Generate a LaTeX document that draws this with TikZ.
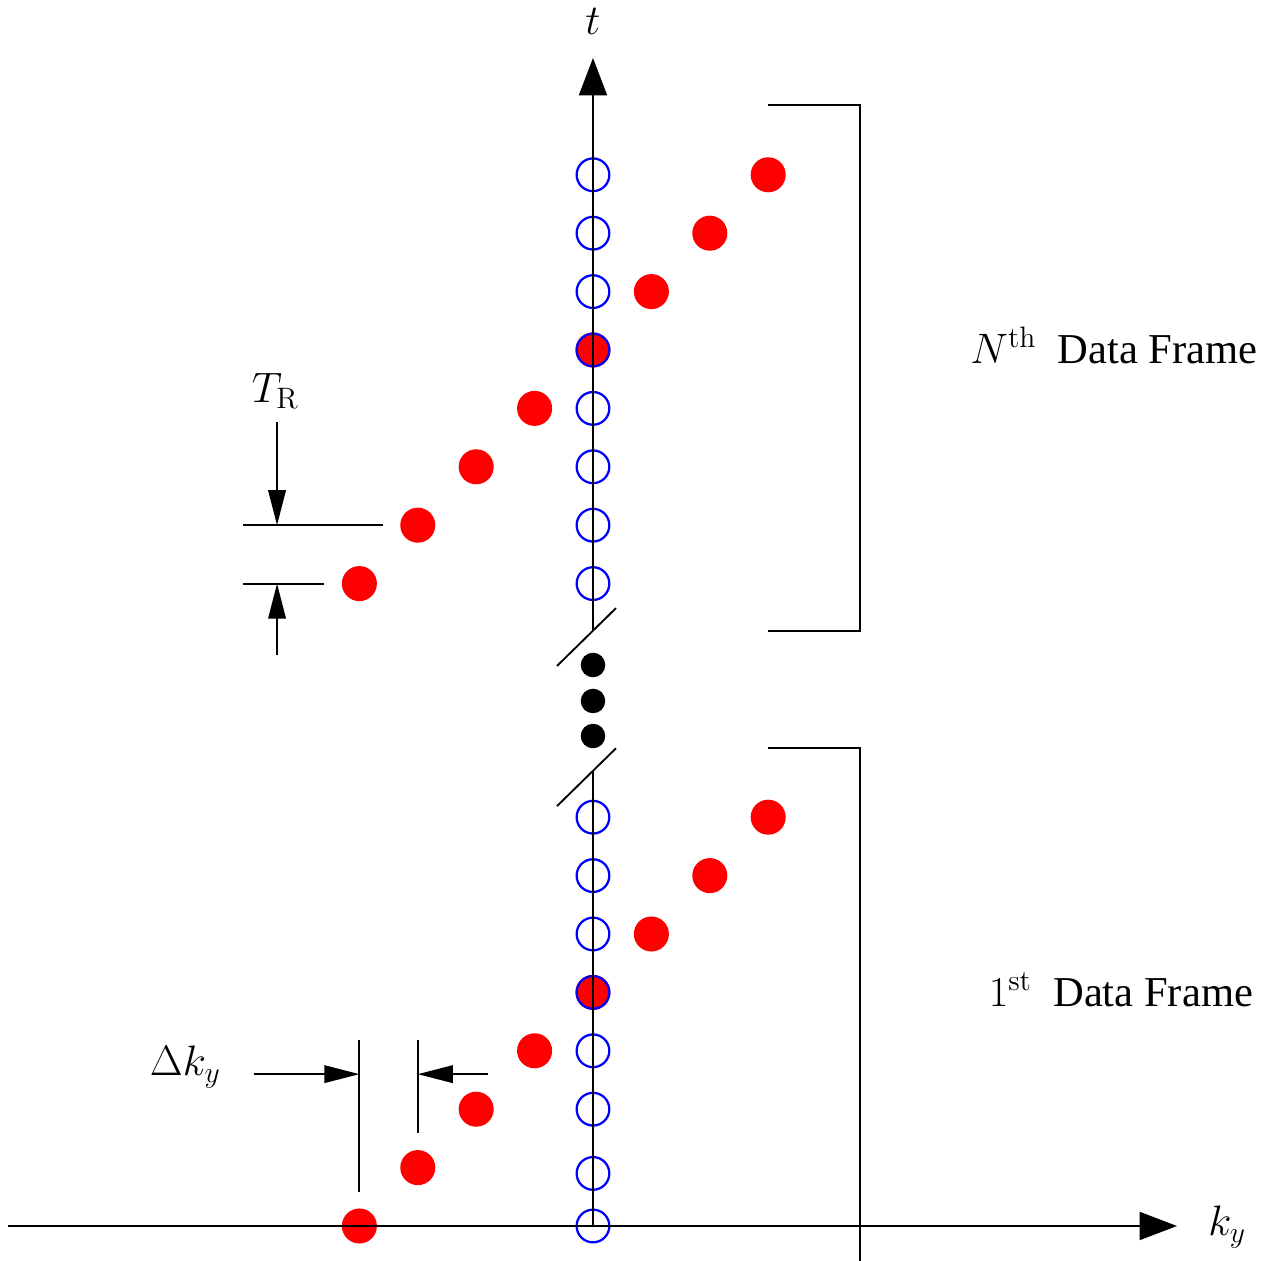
\documentclass[tikz,border=0pt]{standalone}
\usepackage[no-math]{fontspec}
\setmainfont{Liberation Serif}
\usetikzlibrary{arrows.meta}
\begin{document}
\begin{tikzpicture}[
  line width=0.9pt,
  reddot/.style={circle,fill=red,inner sep=0pt,minimum size=0.6cm},
  bluering/.style={circle,draw=blue,line width=1.1pt,inner sep=0pt,minimum size=0.56cm},
  blackdot/.style={circle,fill=black,inner sep=0pt,minimum size=0.42cm},
  axisarrow/.style={-{Triangle[length=0.64cm,width=0.48cm]}},
  dimarrow/.style={-{Triangle[length=0.6cm,width=0.3cm]}},
  lbl/.style={font=\huge,inner sep=0pt},
]
\useasboundingbox (-10.154,-0.599) rectangle (11.627,20.993);

% red dots
\foreach \i in {0,...,7}{
  \node[reddot] (rb\i) at ({\i-4},\i) {};
  \node[reddot] (rt\i) at ({\i-4},{\i+11}) {};
}
% blue rings
\foreach \i/\y in {0/0,1/0.9,2/2,3/3,4/4,5/5,6/6,7/7}{
  \node[bluering] (bb\i) at (0,\y) {};
}
\foreach \i in {0,...,7}{
  \node[bluering] (bt\i) at (0,{\i+11}) {};
}
% black dots
\node[blackdot] (d1) at (0,9.606) {};
\node[blackdot] (d2) at (0,8.99) {};
\node[blackdot] (d3) at (0,8.39) {};

% axes
\coordinate (O) at (0,0);
\coordinate (xl) at (-10.02,0);
\coordinate (xr) at (10,0);
\coordinate (brkL) at (0,7.79);
\coordinate (brkU) at (0,10.19);
\coordinate (ytop) at (0,20);
\draw[axisarrow] (xl) -- (xr);
\draw (O) -- (brkL);
\draw[axisarrow] (brkU) -- (ytop);
% break slashes
\coordinate (s1a) at (-0.616,9.59);
\coordinate (s1b) at (0.394,10.58);
\coordinate (s2a) at (-0.616,7.19);
\coordinate (s2b) at (0.394,8.18);
\draw (s1a) -- (s1b);
\draw (s2a) -- (s2b);

\node[lbl] (tl) at (0,20.62) {$t$};
\node[lbl] (kl) at (10.86,-0.02) {$k_y$};

% brackets
\coordinate (b1a) at (3,19.195);
\coordinate (b1b) at (4.57,19.195);
\coordinate (b1c) at (4.57,10.19);
\coordinate (b1d) at (3,10.19);
\draw (b1a) -- (b1b) -- (b1c) -- (b1d);
\coordinate (b2a) at (3,8.185);
\coordinate (b2b) at (4.57,8.185);
\coordinate (b2c) at (4.57,-1);
\draw (b2a) -- (b2b) -- (b2c);

\node[lbl] (nf) at (8.92,15.08) {$N^{\mathrm{th}}$\ \ Data Frame};
\node[lbl] (ff) at (9.04,4.05) {$1^{\mathrm{st}}$\ \ Data Frame};

% T_R dimension
\node[lbl] (tr) at (-5.44,14.3) {$T_{\mathrm{R}}$};
\coordinate (trl1a) at (-5.99,12);
\coordinate (trl1b) at (-3.6,12);
\coordinate (trl2a) at (-5.99,11);
\coordinate (trl2b) at (-4.6,11);
\draw (trl1a) -- (trl1b);
\draw (trl2a) -- (trl2b);
\coordinate (tra1) at (-5.41,13.77);
\coordinate (trt1) at (-5.41,12);
\coordinate (tra2) at (-5.41,9.78);
\coordinate (trt2) at (-5.41,11);
\draw[dimarrow] (tra1) -- (trt1);
\draw[dimarrow] (tra2) -- (trt2);

% Delta k_y dimension
\node[lbl] (dk) at (-6.98,2.72) {$\Delta k_y$};
\coordinate (v1a) at (-4,3.18);
\coordinate (v1b) at (-4,0.58);
\coordinate (v2a) at (-3,3.18);
\coordinate (v2b) at (-3,1.59);
\draw (v1a) -- (v1b);
\draw (v2a) -- (v2b);
\coordinate (dka1) at (-5.8,2.6);
\coordinate (dkt1) at (-4,2.6);
\coordinate (dka2) at (-1.8,2.6);
\coordinate (dkt2) at (-3,2.6);
\draw[dimarrow] (dka1) -- (dkt1);
\draw[dimarrow] (dka2) -- (dkt2);
\end{tikzpicture}
\end{document}
